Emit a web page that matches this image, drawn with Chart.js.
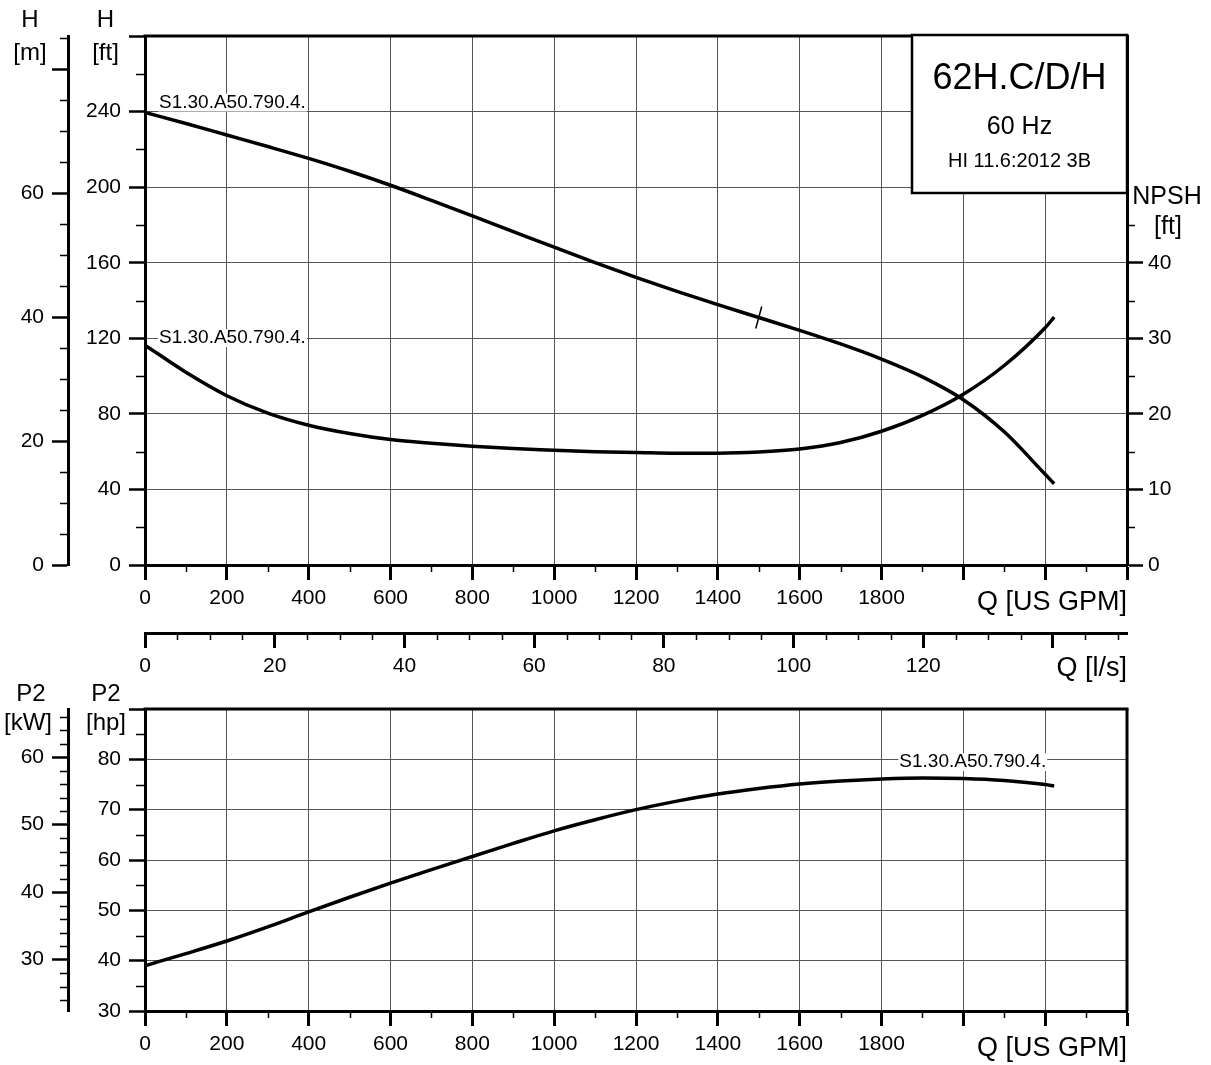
<!DOCTYPE html>
<html><head><meta charset="utf-8">
<script src="https://cdn.jsdelivr.net/npm/chart.js@4.4.1/dist/chart.umd.min.js"></script>
<style>
html,body{margin:0;padding:0;background:#fff;}
body{width:1211px;height:1065px;position:relative;overflow:hidden;}
canvas{position:absolute;left:0;}
#topChart{top:0;}
#botChart{top:680px;}
</style></head><body>
<canvas id="topChart" width="1211" height="690"></canvas>
<canvas id="botChart" width="1211" height="385"></canvas>
<script>
// ---------------- data ----------------
const flowGpm = [0,100,200,300,400,500,600,700,800,900,1000,1100,1200,1300,1400,1500,1600,1700,1800,1900,2000,2100,2200,2222];
const headFt  = [239.5,233.7,227.6,221.5,215.2,208.4,201.0,193.0,184.8,176.5,168.2,160.0,152.2,144.8,137.8,131.0,124.2,117.0,109.0,99.6,87.5,70.5,48.0,43.0];
const npshFt  = [29.1,25.5,22.4,20.1,18.5,17.4,16.6,16.1,15.7,15.4,15.2,15.0,14.9,14.8,14.8,14.95,15.35,16.2,17.7,19.8,22.6,26.4,31.4,32.8];
const powerHp = [39.0,41.4,43.9,46.7,49.7,52.6,55.4,58.1,60.7,63.3,65.8,68.0,70.0,71.7,73.1,74.2,75.1,75.7,76.1,76.3,76.2,75.8,75.0,74.7];
const curveName  = 'S1.30.A50.790.4.';
const titleLines = ['62H.C/D/H', '60 Hz', 'HI 11.6:2012 3B'];
const dutyFlowGpm = 1500;

// axis ranges / tick labels
const gpmMax = 2400, gpmStep = 200, gpmLastLabel = 1800;
const lsStep = 20, lsLastLabel = 120;
const ftMax = 280, ftStep = 40, ftLastLabel = 240;
const mStep = 20, mLastLabel = 60;
const npshStep = 10, npshLastTick = 40;
const hpMin = 30, hpMax = 90, hpStep = 10, hpLastLabel = 80;
const kwStep = 10;
const xTitle = 'Q [US GPM]', lsTitle = 'Q [l/s]';

// unit conversions
const FT_PER_M = 3.28084, GPM_PER_LS = 15.8503, HP_PER_KW = 1.34102, FT_PER_NPSH_FT = 4;

// ---------------- styling ----------------
const FONT = "'Liberation Sans', Arial, Helvetica, sans-serif";
Chart.defaults.font.family = FONT;
Chart.defaults.color = '#000';
const GRID = '#555';
const tickFont = {size: 21, family: FONT};

function txt(ctx, s, x, y, size, align) {
  ctx.font = size + 'px ' + FONT;
  ctx.textAlign = align || 'center';
  ctx.textBaseline = 'middle';
  ctx.fillStyle = '#000';
  ctx.fillText(s, x, y);
}
function line(ctx, x1, y1, x2, y2, w) {
  ctx.beginPath(); ctx.lineWidth = w; ctx.strokeStyle = '#000';
  ctx.moveTo(x1, y1); ctx.lineTo(x2, y2); ctx.stroke();
}
function drawMinor(chart, specs) {
  const ctx = chart.ctx;
  ctx.save(); ctx.strokeStyle = '#000'; ctx.lineWidth = 1.5;
  for (const id in specs) {
    const sp = specs[id], s = chart.scales[id];
    const hi = sp.to !== undefined ? sp.to : s.max;
    ctx.beginPath();
    for (let k = Math.ceil(s.min / sp.step - 1e-9); k * sp.step <= hi + 1e-9; k++) {
      const v = k * sp.step;
      const r = v / sp.major;
      if (Math.abs(r - Math.round(r)) < 1e-6) continue;
      const p = Math.round(s.getPixelForValue(v)) + 0.5;
      if (s.isHorizontal()) { ctx.moveTo(p, s.top); ctx.lineTo(p, s.top + sp.len); }
      else if (s.position === 'left') { ctx.moveTo(s.right, p); ctx.lineTo(s.right - sp.len, p); }
      else { ctx.moveTo(s.left, p); ctx.lineTo(s.left + sp.len, p); }
    }
    ctx.stroke();
  }
  ctx.restore();
}
function labelBox(ctx, s, x, cy, align) {
  ctx.font = '19px ' + FONT;
  const w = ctx.measureText(s).width;
  const left = align === 'right' ? x - w : x;
  ctx.fillStyle = '#fff';
  ctx.fillRect(left - 1, cy - 9, w + 2, 18);
  txt(ctx, s, x, cy, 19, align);
}

const pts = (ys) => flowGpm.map((q, i) => ({x: q, y: ys[i]}));
const curveStyle = {borderColor: '#000', borderWidth: 3.5, pointRadius: 0, fill: false,
  showLine: true, cubicInterpolationMode: 'monotone', borderCapStyle: 'butt', borderJoinStyle: 'round'};

function axisBase(extra) {
  return Object.assign({type: 'linear', border: {display: true, color: '#000', width: 3}}, extra);
}

// ---------------- top chart: head + NPSH ----------------
const topDecor = {
  id: 'topDecor',
  afterDraw(chart) {
    const ctx = chart.ctx, ca = chart.chartArea, sc = chart.scales;
    drawMinor(chart, {
      x: {step: 100, major: gpmStep, len: 7},
      xLs: {step: 5, major: lsStep, len: 7},
      y: {step: 20, major: ftStep, len: 9},
      yM: {step: 5, major: mStep, len: 8},
      yNpsh: {step: 5, major: npshStep, len: 8, to: 45}
    });
    ctx.save();
    line(ctx, ca.left - 1.5, ca.top, ca.right + 1.5, ca.top, 3);
    // title box
    const bl = ca.right - 215, bt = ca.top - 1, bb = ca.top + 157;
    ctx.fillStyle = '#fff'; ctx.fillRect(bl, bt, ca.right - bl, bb - bt);
    ctx.lineWidth = 2.5; ctx.strokeStyle = '#000'; ctx.strokeRect(bl, bt, ca.right - bl, bb - bt);
    const cx = (bl + ca.right) / 2;
    txt(ctx, titleLines[0], cx, bt + 44, 36);
    txt(ctx, titleLines[1], cx, bt + 92, 25);
    txt(ctx, titleLines[2], cx, bt + 126, 20);
    // curve labels
    const x0 = sc.x.getPixelForValue(flowGpm[0]);
    labelBox(ctx, curveName, x0 + 14, sc.y.getPixelForValue(headFt[0]) - 10, 'left');
    labelBox(ctx, curveName, x0 + 14, sc.yNpsh.getPixelForValue(npshFt[0]) - 7, 'left');
    // duty point mark
    const di = flowGpm.indexOf(dutyFlowGpm);
    const dx = sc.x.getPixelForValue(dutyFlowGpm), dy = sc.y.getPixelForValue(headFt[di]);
    line(ctx, dx - 3, dy + 11, dx + 3, dy - 11, 1.5);
    // axis unit titles
    txt(ctx, 'H', sc.yM.right - 38, 20, 24);
    txt(ctx, '[m]', sc.yM.right - 38, 53, 24);
    txt(ctx, 'H', sc.y.right - 39.5, 20, 24);
    txt(ctx, '[ft]', sc.y.right - 39.5, 53, 24);
    txt(ctx, 'NPSH', sc.yNpsh.left + 40, bb + 4, 25);
    txt(ctx, '[ft]', sc.yNpsh.left + 41, bb + 34, 25);
    txt(ctx, xTitle, ca.right, sc.x.top + 38, 27, 'right');
    txt(ctx, lsTitle, ca.right, sc.xLs.top + 36, 27, 'right');
    ctx.restore();
  }
};

new Chart(document.getElementById('topChart'), {
  type: 'scatter',
  data: {datasets: [
    Object.assign({label: 'H', data: pts(headFt), xAxisID: 'x', yAxisID: 'y'}, curveStyle),
    Object.assign({label: 'NPSH', data: pts(npshFt), xAxisID: 'x', yAxisID: 'yNpsh'}, curveStyle)
  ]},
  options: {
    responsive: false, animation: false, devicePixelRatio: 1,
    layout: {padding: {top: 36, left: 0, right: 0, bottom: 0}},
    plugins: {legend: {display: false}, tooltip: {enabled: false}},
    scales: {
      x: axisBase({position: 'bottom', weight: 0, min: 0, max: gpmMax,
        afterFit: s => { s.height = 68; },
        grid: {color: GRID, lineWidth: 1, tickLength: 15, tickColor: '#000', tickWidth: 3},
        ticks: {stepSize: gpmStep, autoSkip: false, maxRotation: 0, font: tickFont, padding: 6,
          callback: v => v <= gpmLastLabel ? String(v) : ''}}),
      xLs: axisBase({position: 'bottom', weight: 1, min: 0, max: gpmMax / GPM_PER_LS,
        afterFit: s => { s.height = 57; },
        grid: {drawOnChartArea: false, tickLength: 15, tickColor: '#000', tickWidth: 3},
        ticks: {stepSize: lsStep, includeBounds: false, autoSkip: false, maxRotation: 0, font: tickFont, padding: 6,
          callback: v => v <= lsLastLabel ? String(v) : ''}}),
      y: axisBase({position: 'left', weight: 0, min: 0, max: ftMax,
        afterFit: s => { s.width = 77; },
        grid: {color: GRID, lineWidth: 1, tickLength: 16, tickColor: '#000', tickWidth: 2.5},
        ticks: {stepSize: ftStep, autoSkip: false, font: tickFont, padding: 8,
          callback: v => v <= ftLastLabel ? String(v) : ''}}),
      yM: axisBase({position: 'left', weight: 1, min: 0, max: ftMax / FT_PER_M,
        afterFit: s => { s.width = 68; },
        grid: {drawOnChartArea: false, tickLength: 16, tickColor: '#000', tickWidth: 2.5},
        ticks: {stepSize: mStep, includeBounds: false, autoSkip: false, font: tickFont, padding: 8,
          callback: v => v <= mLastLabel ? String(v) : ''}}),
      yNpsh: axisBase({position: 'right', min: 0, max: ftMax / FT_PER_NPSH_FT,
        afterFit: s => { s.width = 84; },
        afterBuildTicks: s => { s.ticks = s.ticks.filter(t => t.value <= npshLastTick); },
        grid: {drawOnChartArea: false, tickLength: 16, tickColor: '#000', tickWidth: 2.5},
        ticks: {stepSize: npshStep, autoSkip: false, font: tickFont, padding: 5,
          callback: v => String(v)}})
    }
  },
  plugins: [topDecor]
});

// ---------------- bottom chart: power ----------------
const botDecor = {
  id: 'botDecor',
  afterDraw(chart) {
    const ctx = chart.ctx, ca = chart.chartArea, sc = chart.scales;
    drawMinor(chart, {
      x: {step: 100, major: gpmStep, len: 7},
      y: {step: 5, major: hpStep, len: 9},
      yKw: {step: 2, major: kwStep, len: 8}
    });
    ctx.save();
    line(ctx, ca.left - 1.5, ca.top, ca.right + 1.5, ca.top, 3);
    line(ctx, ca.right, ca.top, ca.right, ca.bottom, 3);
    const n = flowGpm.length - 1;
    labelBox(ctx, curveName, sc.x.getPixelForValue(flowGpm[n]) - 8,
      sc.y.getPixelForValue(powerHp[n]) - 24, 'right');
    txt(ctx, 'P2', sc.yKw.right - 37, 14, 24);
    txt(ctx, '[kW]', sc.yKw.right - 40, 43, 24);
    txt(ctx, 'P2', sc.y.right - 39, 14, 24);
    txt(ctx, '[hp]', sc.y.right - 39, 43, 24);
    txt(ctx, xTitle, ca.right, sc.x.top + 38, 27, 'right');
    ctx.restore();
  }
};

new Chart(document.getElementById('botChart'), {
  type: 'scatter',
  data: {datasets: [
    Object.assign({label: 'P2', data: pts(powerHp), xAxisID: 'x', yAxisID: 'y'}, curveStyle)
  ]},
  options: {
    responsive: false, animation: false, devicePixelRatio: 1,
    layout: {padding: {top: 29, left: 0, right: 84, bottom: 0}},
    plugins: {legend: {display: false}, tooltip: {enabled: false}},
    scales: {
      x: axisBase({position: 'bottom', min: 0, max: gpmMax,
        afterFit: s => { s.height = 54; },
        grid: {color: GRID, lineWidth: 1, tickLength: 15, tickColor: '#000', tickWidth: 3},
        ticks: {stepSize: gpmStep, autoSkip: false, maxRotation: 0, font: tickFont, padding: 6,
          callback: v => v <= gpmLastLabel ? String(v) : ''}}),
      y: axisBase({position: 'left', weight: 0, min: hpMin, max: hpMax,
        afterFit: s => { s.width = 77; },
        grid: {color: GRID, lineWidth: 1, tickLength: 16, tickColor: '#000', tickWidth: 2.5},
        ticks: {stepSize: hpStep, autoSkip: false, font: tickFont, padding: 8,
          callback: v => v <= hpLastLabel ? String(v) : ''}}),
      yKw: axisBase({position: 'left', weight: 1, min: hpMin / HP_PER_KW, max: hpMax / HP_PER_KW,
        afterFit: s => { s.width = 68; },
        grid: {drawOnChartArea: false, tickLength: 16, tickColor: '#000', tickWidth: 2.5},
        ticks: {stepSize: kwStep, includeBounds: false, autoSkip: false, font: tickFont, padding: 8,
          callback: v => String(v)}})
    }
  },
  plugins: [botDecor]
});
</script>
</body></html>
